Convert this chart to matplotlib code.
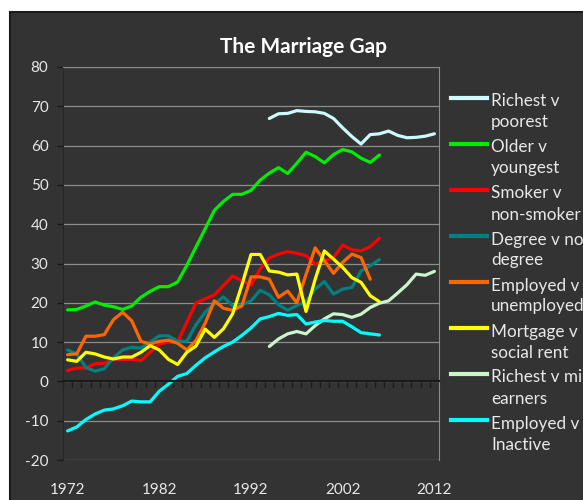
import matplotlib.pyplot as plt
from matplotlib import rcParams
from matplotlib.patches import Rectangle
from matplotlib.lines import Line2D
import matplotlib.transforms as mtrans

rcParams['font.family'] = ['Lato', 'DejaVu Sans']

# Figure colour specs (dark Excel style)
BG = '#333333'
TXT = '#e8e8e8'
GRID = '#8c8c8c'
DARK = '#1a1a1a'

# =======================================================================
# ============================== Data ===================================
# =======================================================================

years = list(range(1972, 2013))
label_years = [1972, 1982, 1992, 2002, 2012]

# 1994 - 2012
richest_v_poorest = [66.9, 68.1, 68.2, 68.9, 68.7, 68.6, 68.2, 66.9, 64.5, 62.3,
                     60.4, 62.8, 63.0, 63.7, 62.6, 62.0, 62.1, 62.4, 63.0]
# 1972 - 2006
older_v_youngest = [18.2, 18.3, 19.2, 20.2, 19.4, 19.0, 18.3, 19.2, 21.4, 22.9,
                    24.1, 24.1, 25.3, 29.5, 34.2, 38.8, 43.5, 45.8, 47.6, 47.6,
                    48.6, 51.2, 53.0, 54.4, 52.9, 55.5, 58.3, 57.2, 55.6, 57.7,
                    59.0, 58.4, 56.8, 55.7, 57.6]
# 1972 - 2006
smoker_v_non = [2.8, 3.4, 3.4, 4.5, 4.6, 5.6, 5.6, 5.6, 5.3, 7.4,
                9.5, 10.0, 10.0, 15.0, 20.0, 21.0, 22.0, 24.4, 26.8, 25.6,
                24.5, 28.6, 31.4, 32.4, 33.0, 32.6, 32.0, 29.8, 30.7, 31.5,
                34.7, 33.5, 33.2, 34.3, 36.4]
# 1972 - 2006
degree_v_no = [8.0, 7.0, 3.5, 2.6, 3.2, 6.0, 8.0, 8.7, 8.5, 10.0,
               11.6, 11.6, 10.2, 10.2, 14.4, 17.6, 19.7, 21.5, 19.2, 19.5,
               20.5, 23.2, 22.0, 19.5, 18.1, 19.3, 20.3, 23.5, 25.4, 22.2,
               23.5, 23.9, 28.1, 29.4, 31.0]
# 1972 - 2005
employed_v_unemployed = [6.8, 7.0, 11.5, 11.5, 11.9, 15.7, 17.6, 15.4, 10.2, 9.5,
                         10.2, 10.5, 9.7, 8.0, 10.4, 14.8, 20.5, 18.6, 18.1, 19.2,
                         26.6, 26.6, 26.0, 21.4, 23.0, 20.0, 27.2, 34.0, 30.7, 27.5,
                         30.3, 32.4, 31.5, 26.0]
# 1972 - 2006
mortgage_v_social = [5.5, 5.1, 7.4, 7.0, 6.2, 5.7, 6.2, 6.2, 7.4, 9.1,
                     8.0, 5.6, 4.3, 7.4, 9.0, 13.3, 11.2, 13.4, 17.2, 24.5,
                     32.3, 32.3, 28.1, 27.8, 27.1, 27.3, 17.8, 26.0, 33.2, 31.1,
                     29.0, 26.4, 25.2, 21.8, 20.3]
# 1994 - 2012
richest_v_mid = [8.9, 10.8, 12.1, 12.7, 12.1, 14.2, 15.9, 17.2, 17.0, 16.3,
                 17.1, 18.8, 19.9, 20.5, 22.5, 24.6, 27.3, 27.0, 28.0]
# 1972 - 2006
employed_v_inactive = [-12.6, -11.6, -9.7, -8.3, -7.3, -7.0, -6.2, -5.0, -5.2, -5.2,
                       -2.5, -0.7, 1.3, 2.0, 4.1, 6.0, 7.5, 8.9, 10.0, 11.7,
                       13.6, 15.9, 16.5, 17.3, 16.8, 17.0, 14.6, 15.1, 15.5, 15.3,
                       15.3, 13.9, 12.4, 12.1, 11.8]

series = [richest_v_poorest, older_v_youngest, smoker_v_non, degree_v_no,
          employed_v_unemployed, mortgage_v_social, richest_v_mid, employed_v_inactive]
first_year = [1994, 1972, 1972, 1972, 1972, 1972, 1994, 1972]
names = [('Richest v', 'poorest'), ('Older v', 'youngest'), ('Smoker v', 'non-smoker'),
         ('Degree v no', 'degree'), ('Employed v', 'unemployed'), ('Mortgage v', 'social rent'),
         ('Richest v mid', 'earners'), ('Employed v', 'Inactive')]
colors = ['#ccfaff', '#00ee00', '#ff0000', '#008080',
          '#ff6600', '#ffff00', '#ccf5cc', '#00ffff']

# =======================================================================
# ============================= Figure ==================================
# =======================================================================

W, H = 583, 500
fig = plt.figure(figsize=(W / 100, H / 100), dpi=100, facecolor='white')

# Chart area background
fig.patches.append(Rectangle(
    (10 / W, -0.02), 1.0, 1 - 12 / H + 0.02
    , transform=fig.transFigure, facecolor=BG, edgecolor=DARK, lw=1.5, zorder=-5))

ax = fig.add_axes([63 / W, 40 / H, 376 / W, 393 / H])
ax.set_facecolor('none')

for vals, start, col in zip(series, first_year, colors):
    xs = years[years.index(start):years.index(start) + len(vals)]
    ax.plot(xs, vals, color=col, lw=2.3, solid_joinstyle='round', solid_capstyle='round')

ax.set_xlim(1971.5, 2012.5)
ax.set_ylim(-20, 80)

# y axis
yt = list(range(-20, 81, 10))
ax.set_yticks(yt, labels=[str(v) for v in yt])
ax.yaxis.grid(True, color=GRID, lw=0.9)
ax.set_axisbelow(True)
ax.tick_params(axis='y', direction='out', length=4.5, width=1, color=DARK,
               labelcolor=TXT, labelsize=11, pad=6)

# x axis on zero line, ticks between categories
ax.spines['bottom'].set_position(('data', 0))
ax.spines['bottom'].set_color(DARK)
ax.spines['bottom'].set_linewidth(1.5)
ax.set_xticks([y - 0.5 for y in years] + [years[-1] + 0.5], labels=[])
ax.tick_params(axis='x', direction='out', length=4, width=1, color=DARK)
ax.spines['left'].set_color('#262626')
ax.spines['right'].set_color(GRID)
ax.spines['top'].set_color(GRID)

trans = mtrans.blended_transform_factory(ax.transData, ax.transAxes)
for yr in label_years:
    ax.text(yr, -30 / 393, str(yr), transform=trans, ha='center', va='center',
            color=TXT, fontsize=11)

# Title
fig.text(303 / W, 1 - 53 / H, 'The Marriage Gap', ha='center', va='baseline',
         fontsize=15, fontweight='bold', color='white')

# Legend (drawn by hand, clipped at the right edge like the original)
for i, ((l1, l2), col) in enumerate(zip(names, colors)):
    ypx = 98 + 46 * i
    fig.add_artist(Line2D([451 / W, 487 / W], [1 - ypx / H] * 2,
                          transform=fig.transFigure, color=col, lw=3))
    fig.text(491 / W, 1 - (ypx + 8.5) / H, l1, va='baseline', ha='left',
             fontsize=12.3, color=TXT)
    fig.text(491 / W, 1 - (ypx + 29.5) / H, l2, va='baseline', ha='left',
             fontsize=12.3, color=TXT)

fig.savefig('out.png', dpi=100, facecolor='white')
